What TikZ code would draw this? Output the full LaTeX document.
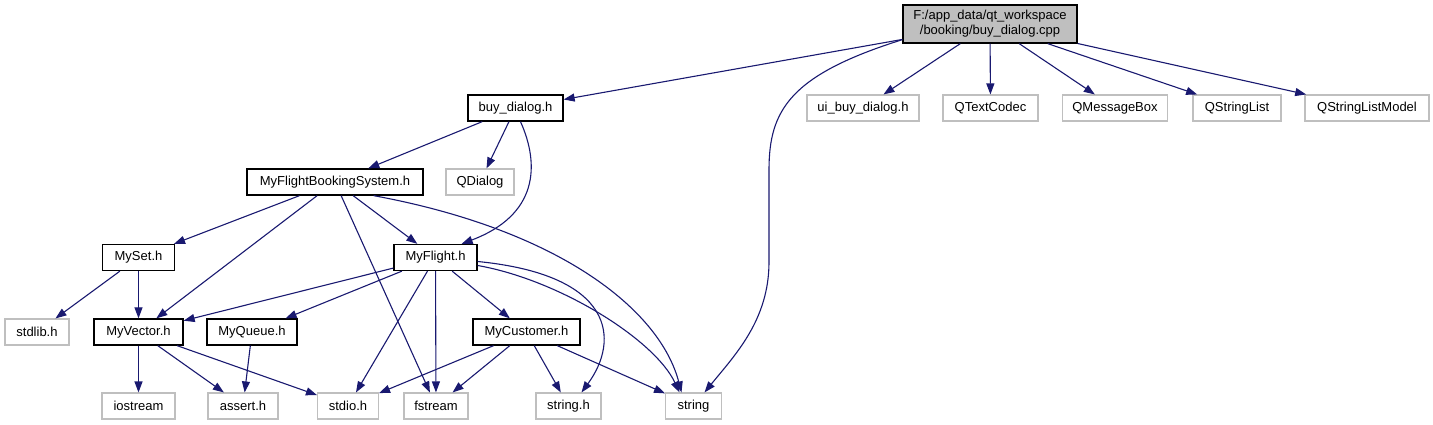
\documentclass[tikz,border=0pt]{standalone}
\usepackage{fontspec}
\setmainfont{Liberation Sans}
\usetikzlibrary{arrows.meta,calc}
\definecolor{edgec}{HTML}{191970}
\definecolor{extb}{HTML}{BFBFBF}
\definecolor{rootfill}{HTML}{BFBFBF}
\begin{document}
\begin{tikzpicture}[x=1pt,y=-1pt,
  box/.style={draw=black,line width=1.3pt,fill=white,rectangle,inner sep=0pt,
    minimum height=26pt,font=\fontsize{13}{15}\selectfont},
  ext/.style={box,draw=extb,line width=1.1pt},
  rootbox/.style={box,fill=rootfill,minimum height=38pt,align=center},
  dep/.style={draw=edgec,line width=1.1pt,-{Triangle[length=11pt,width=8pt]}}]
\useasboundingbox (0,0) rectangle (1433,425);
% nodes
\node[rootbox,minimum width=174pt] (root) at (990,24) {F:/app\_data/qt\_workspace\\/booking/buy\_dialog.cpp};
\node[box,minimum width=95pt] (buy) at (515.5,108) {buy\_dialog.h};
\node[ext,minimum width=112pt] (ui) at (863,108) {ui\_buy\_dialog.h};
\node[ext,minimum width=95pt] (qtc) at (990.5,108) {QTextCodec};
\node[ext,minimum width=105pt] (qmb) at (1115,108) {QMessageBox};
\node[ext,minimum width=88pt] (qsl) at (1237,108) {QStringList};
\node[ext,minimum width=124pt] (qslm) at (1367,108) {QStringListModel};
\node[ext,minimum width=68pt] (qdlg) at (480,182) {QDialog};
\node[box,minimum width=176pt] (mfbs) at (335,182) {MyFlightBookingSystem.h};
\node[box,minimum width=72pt] (myset) at (138.5,257.5) {MySet.h};
\node[box,minimum width=83pt] (myflight) at (435.5,257.5) {MyFlight.h};
\node[ext,minimum width=64pt] (stdlib) at (37,332) {stdlib.h};
\node[box,minimum width=89pt] (myvector) at (138.5,332) {MyVector.h};
\node[box,minimum width=90pt] (myqueue) at (252,332) {MyQueue.h};
\node[box,minimum width=107pt] (mycust) at (526.5,332) {MyCustomer.h};
\node[ext,minimum width=73pt] (iostream) at (138.5,406) {iostream};
\node[ext,minimum width=70pt] (assert) at (243,406) {assert.h};
\node[ext,minimum width=61pt] (stdio) at (348,406) {stdio.h};
\node[ext,minimum width=64pt] (fstream) at (436,406) {fstream};
\node[ext,minimum width=65pt] (stringh) at (568.5,406) {string.h};
\node[ext,minimum width=56pt] (string) at (693.5,406) {string};
% edges from root
\draw[dep] (root) -- (buy);
\draw[dep] (root) -- (ui);
\draw[dep] (root) -- (qtc);
\draw[dep] (root) -- (qmb);
\draw[dep] (root) -- (qsl);
\draw[dep] (root) -- (qslm);
\draw[dep] ($(root.south west)+(0,-4)$) .. controls (790,75) and (769,110) .. (769,170)
  -- (769,262) .. controls (769,320) and (735,355) .. ($(string.north)+(11,0)$);
% buy_dialog.h
\draw[dep] (buy) -- (mfbs);
\draw[dep] (buy) -- (qdlg);
\draw[dep] ($(buy.south)+(5,0)$) .. controls (540,165) and (538,215) .. ($(myflight.north east)+(-16,0)$);
% MyFlightBookingSystem.h
\draw[dep] (mfbs) -- (myset);
\draw[dep] (mfbs) -- (myvector);
\draw[dep] (mfbs) -- (myflight);
\draw[dep] (mfbs) -- (fstream);
\draw[dep] ($(mfbs.south east)+(-50,0)$) .. controls (560,230) and (660,310) .. ($(string.north)+(-12,0)$);
% MySet.h
\draw[dep] (myset) -- (stdlib);
\draw[dep] (myset) -- (myvector);
% MyFlight.h
\draw[dep] (myflight) -- (myvector);
\draw[dep] (myflight) -- (myqueue);
\draw[dep] (myflight) -- (mycust);
\draw[dep] (myflight) -- (stdio);
\draw[dep] (myflight) -- (fstream);
\draw[dep] ($(myflight.east)+(0,4)$) .. controls (615,275) and (620,340) .. ($(stringh.north)+(13,0)$);
\draw[dep] ($(myflight.east)+(0,8)$) .. controls (560,280) and (655,340) .. ($(string.north)+(-14,0)$);
% MyVector.h
\draw[dep] (myvector) -- (iostream);
\draw[dep] (myvector) -- (assert);
\draw[dep] (myvector) -- (stdio);
% MyQueue.h
\draw[dep] (myqueue) -- (assert);
% MyCustomer.h
\draw[dep] (mycust) -- (stdio);
\draw[dep] (mycust) -- (fstream);
\draw[dep] (mycust) -- (stringh);
\draw[dep] (mycust) -- (string);
\end{tikzpicture}
\end{document}
